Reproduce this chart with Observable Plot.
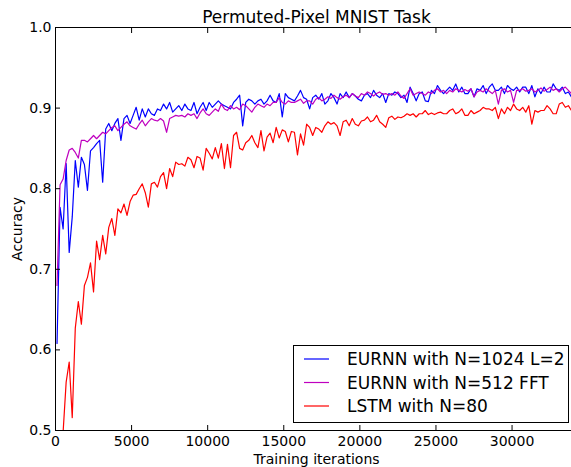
<!DOCTYPE html>
<html><head><meta charset="utf-8">
<script src="https://cdn.jsdelivr.net/npm/d3@7"></script>
<script src="https://cdn.jsdelivr.net/npm/@observablehq/plot@0.6"></script>
<style>
html,body{margin:0;padding:0;background:#fff;overflow:hidden;width:571px;height:467px}
#chart{width:578px;overflow:visible}
#chart svg{display:block;max-width:none !important}
</style></head><body><div id="chart"></div>
<script>
// sampling grid of training iterations (first sample and spacing)
const iterStart = 100, iterStep = 200;

// EURNN with N=1024 L=2 (5 samples per 1000 iterations)
const eurnnTunable = [
0.608,0.777,0.750,0.831,0.721, 0.765,0.835,0.802,0.839,0.830, 0.798,0.847,0.851,0.856,0.860,
0.808,0.874,0.881,0.872,0.881, 0.887,0.860,0.887,0.891,0.881, 0.891,0.901,0.885,0.899,0.889,
0.899,0.893,0.891,0.899,0.897, 0.905,0.899,0.907,0.895,0.899, 0.903,0.897,0.905,0.899,0.897,
0.907,0.893,0.901,0.907,0.897, 0.907,0.901,0.905,0.909,0.905, 0.903,0.901,0.899,0.907,0.911,
0.916,0.878,0.907,0.911,0.909, 0.905,0.909,0.911,0.905,0.909, 0.916,0.909,0.907,0.918,0.889,
0.918,0.913,0.911,0.909,0.915, 0.922,0.913,0.911,0.899,0.913, 0.916,0.911,0.918,0.905,0.909,
0.918,0.913,0.905,0.918,0.913, 0.920,0.913,0.918,0.915,0.911, 0.909,0.916,0.918,0.913,0.922,
0.916,0.913,0.918,0.907,0.918, 0.916,0.920,0.918,0.913,0.916, 0.907,0.926,0.918,0.909,0.918,
0.920,0.909,0.908,0.922,0.918, 0.928,0.922,0.918,0.922,0.926, 0.922,0.930,0.920,0.926,0.918,
0.918,0.924,0.914,0.924,0.922, 0.928,0.918,0.926,0.930,0.922, 0.922,0.926,0.918,0.928,0.924,
0.922,0.926,0.920,0.926,0.926, 0.918,0.928,0.914,0.924,0.918, 0.926,0.920,0.920,0.930,0.924,
0.922,0.926,0.918,0.920,0.914
];

// EURNN with N=512 FFT
const eurnnFFT = [
0.680,0.805,0.812,0.835,0.848, 0.850,0.845,0.838,0.860,0.860, 0.858,0.862,0.866,0.862,0.866,
0.870,0.868,0.872,0.876,0.878, 0.872,0.876,0.880,0.883,0.878, 0.876,0.874,0.880,0.885,0.878,
0.883,0.887,0.885,0.884,0.887, 0.884,0.870,0.887,0.889,0.891, 0.890,0.891,0.889,0.893,0.891,
0.893,0.887,0.894,0.899,0.893, 0.891,0.895,0.899,0.896,0.905, 0.899,0.897,0.903,0.899,0.901,
0.898,0.905,0.903,0.899,0.895, 0.901,0.905,0.903,0.901,0.905, 0.903,0.907,0.907,0.913,0.907,
0.905,0.909,0.907,0.907,0.909, 0.911,0.906,0.909,0.909,0.905, 0.911,0.913,0.909,0.911,0.914,
0.912,0.916,0.913,0.911,0.914, 0.916,0.913,0.918,0.915,0.913, 0.918,0.916,0.920,0.918,0.915,
0.918,0.920,0.917,0.918,0.916, 0.918,0.916,0.920,0.915,0.912, 0.918,0.924,0.916,0.918,0.920,
0.918,0.916,0.920,0.918,0.922, 0.924,0.920,0.922,0.918,0.922, 0.920,0.924,0.922,0.920,0.923,
0.921,0.924,0.914,0.920,0.922, 0.920,0.924,0.921,0.918,0.922, 0.905,0.922,0.924,0.920,0.922,
0.907,0.922,0.922,0.924,0.921, 0.922,0.924,0.920,0.922,0.925, 0.921,0.923,0.926,0.922,0.924,
0.920,0.924,0.926,0.922,0.918
];

// LSTM with N=80
const lstm = [
0.400,0.450,0.498,0.560,0.585, 0.516,0.627,0.660,0.632,0.680, 0.690,0.708,0.672,0.735,0.712,
0.742,0.719,0.752,0.763,0.742, 0.775,0.770,0.781,0.767,0.784, 0.792,0.793,0.800,0.806,0.795,
0.777,0.806,0.808,0.802,0.815, 0.820,0.800,0.825,0.815,0.833, 0.830,0.831,0.828,0.839,0.836,
0.826,0.840,0.838,0.823,0.850, 0.844,0.837,0.851,0.838,0.856, 0.825,0.855,0.826,0.866,0.870,
0.850,0.848,0.857,0.860,0.866, 0.857,0.851,0.872,0.847,0.864, 0.869,0.857,0.876,0.863,0.873,
0.871,0.858,0.871,0.870,0.842, 0.868,0.854,0.880,0.876,0.866, 0.876,0.874,0.870,0.878,0.883,
0.880,0.882,0.878,0.866,0.883, 0.885,0.878,0.887,0.880,0.878, 0.884,0.885,0.889,0.883,0.885,
0.891,0.883,0.880,0.876,0.888, 0.890,0.886,0.889,0.888,0.890, 0.893,0.891,0.893,0.889,0.893,
0.893,0.897,0.892,0.894,0.892, 0.894,0.895,0.893,0.893,0.897, 0.899,0.893,0.895,0.899,0.891,
0.891,0.897,0.893,0.895,0.897, 0.901,0.899,0.899,0.897,0.901, 0.887,0.899,0.893,0.901,0.897,
0.905,0.899,0.897,0.901,0.895, 0.903,0.880,0.897,0.895,0.897, 0.897,0.903,0.899,0.893,0.893,
0.905,0.907,0.901,0.903,0.897
];

const seriesNames = ["EURNN with N=1024 L=2", "EURNN with N=512 FFT", "LSTM with N=80"];
const seriesColors = ["#0000ff", "#bf00bf", "#ff0000"];
const xTicks = [0, 5000, 10000, 15000, 20000, 25000, 30000];
const yTicks = [0.5, 0.6, 0.7, 0.8, 0.9, 1.0];
const xMax = 34300;
const titleText = "Permuted-Pixel MNIST Task";
const xLabel = "Training iterations";
const yLabel = "Accuracy";

const rows = [];
[eurnnTunable, eurnnFFT, lstm].forEach((arr, s) => {
  arr.forEach((v, i) => rows.push({iter: iterStart + i * iterStep, acc: v, series: seriesNames[s]}));
});

const FONT = "DejaVu Sans";
const plot = Plot.plot({
  width: 578, height: 467,
  marginLeft: 55, marginRight: 1, marginTop: 27, marginBottom: 37,
  style: {fontFamily: FONT, fontSize: "14px", background: "white", color: "black", overflow: "visible", maxWidth: "none"},
  x: {domain: [0, xMax]},
  y: {domain: [0.5, 1.0]},
  color: {domain: seriesNames, range: seriesColors},
  marks: [
    Plot.line(rows, {x: "iter", y: "acc", z: "series", stroke: "series", strokeWidth: 1.2, clip: true}),
    Plot.frame({stroke: "black", strokeWidth: 1}),
    // inward ticks
    Plot.axisX({anchor: "bottom", ticks: xTicks, tickSize: 5, dy: -5, tickFormat: () => "", label: null}),
    Plot.axisX({anchor: "top", ticks: xTicks, tickSize: 5, dy: 5, tickFormat: () => "", label: null}),
    Plot.axisY({anchor: "left", ticks: yTicks, tickSize: 5, dx: 5, tickFormat: () => "", label: null}),
    Plot.axisY({anchor: "right", ticks: yTicks, tickSize: 5, dx: -5, tickFormat: () => "", label: null}),
    // tick labels
    Plot.axisX({anchor: "bottom", ticks: xTicks, tickSize: 0, tickPadding: 6, tickFormat: d => String(d), label: null, fontSize: 14}),
    Plot.axisY({anchor: "left", ticks: yTicks, tickSize: 0, tickPadding: 4, tickFormat: d3.format(".1f"), label: null, fontSize: 14}),
    // titles
    Plot.text([titleText], {frameAnchor: "top", lineAnchor: "bottom", dy: -5, fontSize: 17}),
    Plot.text([xLabel], {frameAnchor: "bottom", lineAnchor: "bottom", dy: 33, fontSize: 14}),
    Plot.text([yLabel], {frameAnchor: "left", textAnchor: "middle", lineAnchor: "bottom", rotate: -90, dx: -34, fontSize: 14})
  ]
});
plot.style.maxWidth = "none";
document.getElementById("chart").appendChild(plot);

// legend (lower right, inside the axes)
const xr = plot.scale("x").range, yr = plot.scale("y").range;
const boxW = 275, boxH = 77;
const bx = xr[1] - 9 - boxW, by = yr[0] - 8 - boxH;
const svg = d3.select(plot);
const lg = svg.append("g").attr("font-family", FONT).attr("font-size", 17).attr("text-anchor", "start");
lg.append("rect").attr("x", bx + 0.5).attr("y", by + 0.5).attr("width", boxW).attr("height", boxH)
  .attr("fill", "white").attr("stroke", "black").attr("stroke-width", 1);
seriesNames.forEach((name, i) => {
  const cy = by + 14 + i * 23.5;
  lg.append("line").attr("x1", bx + 11).attr("x2", bx + 36).attr("y1", cy).attr("y2", cy)
    .attr("stroke", seriesColors[i]).attr("stroke-width", 1.2);
  lg.append("text").attr("x", bx + 54).attr("y", cy).attr("dy", "0.36em").attr("fill", "black").text(name);
});
</script></body></html>
